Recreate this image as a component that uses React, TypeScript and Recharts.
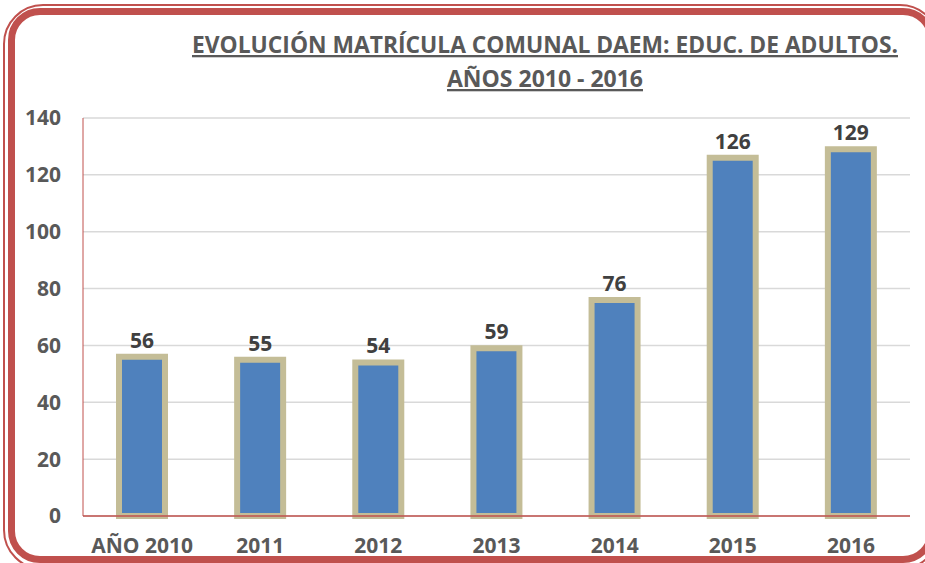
import { BarChart, Bar, XAxis, YAxis, CartesianGrid, LabelList } from 'recharts'

const YEARS = ['AÑO 2010', '2011', '2012', '2013', '2014', '2015', '2016']
const ENROLLMENT = [56, 55, 54, 59, 76, 126, 129]
const Y_TICKS = [0, 20, 40, 60, 80, 100, 120, 140]

const TITLE_1 = 'EVOLUCIÓN MATRÍCULA COMUNAL DAEM: EDUC. DE ADULTOS.'
const TITLE_2 = 'AÑOS 2010 - 2016'

const RED = '#C0504D'
const FONT = '"Open Sans", "DejaVu Sans", sans-serif'

const data = YEARS.map((year, i) => ({ year, value: ENROLLMENT[i] }))

export default function App() {
  return (
    <div style={{ position: 'relative', width: 925, height: 563, overflow: 'hidden', background: '#fff' }}>
      <style>{'body{margin:0;overflow:hidden}'}</style>
      {/* double red frame */}
      <div style={{ position: 'absolute', left: 3, top: 4, width: 937, height: 566, border: `2px solid ${RED}`, borderRadius: 40, boxSizing: 'border-box' }} />
      <div style={{ position: 'absolute', left: 8, top: 8, width: 927, height: 555, border: `7px solid ${RED}`, borderRadius: 32, boxSizing: 'border-box' }} />

      <svg width={925} height={100} style={{ position: 'absolute', left: 0, top: 0 }}>
        <text x={192} y={53} textLength={706} lengthAdjust="spacingAndGlyphs" fontFamily={FONT} fontWeight="bold" fontSize={23} fill="#595959" textDecoration="underline">
          {TITLE_1}
        </text>
        <text x={447} y={87} textLength={196} lengthAdjust="spacingAndGlyphs" fontFamily={FONT} fontWeight="bold" fontSize={23} fill="#595959" textDecoration="underline">
          {TITLE_2}
        </text>
      </svg>

      <div style={{ position: 'absolute', left: 0, top: 0 }}>
        <BarChart width={925} height={563} data={data} margin={{ top: 118, right: 15, bottom: 12, left: 8 }}>
          <CartesianGrid vertical={false} stroke="#D9D9D9" strokeWidth={1.5} />
          <XAxis
            dataKey="year"
            height={35}
            axisLine={{ stroke: RED, strokeWidth: 1.5 }}
            tickLine={false}
            tickSize={0}
            tickMargin={22}
            tick={{ fill: '#595959', fontSize: 21, fontWeight: 'bold', fontFamily: FONT }}
            interval={0}
          />
          <YAxis
            width={75}
            domain={[0, 140]}
            ticks={Y_TICKS}
            axisLine={{ stroke: RED, strokeWidth: 1 }}
            tickLine={false}
            tickSize={0}
            tickMargin={22}
            tick={{ fill: '#595959', fontSize: 21, fontWeight: 'bold', fontFamily: FONT }}
          />
          <Bar dataKey="value" fill="#4F81BD" stroke="#C4BD97" strokeWidth={6} barSize={46} isAnimationActive={false}>
            <LabelList dataKey="value" position="top" offset={9} fill="#404040" fontSize={21} fontWeight="bold" fontFamily={FONT} />
          </Bar>
        </BarChart>
      </div>
    </div>
  )
}
